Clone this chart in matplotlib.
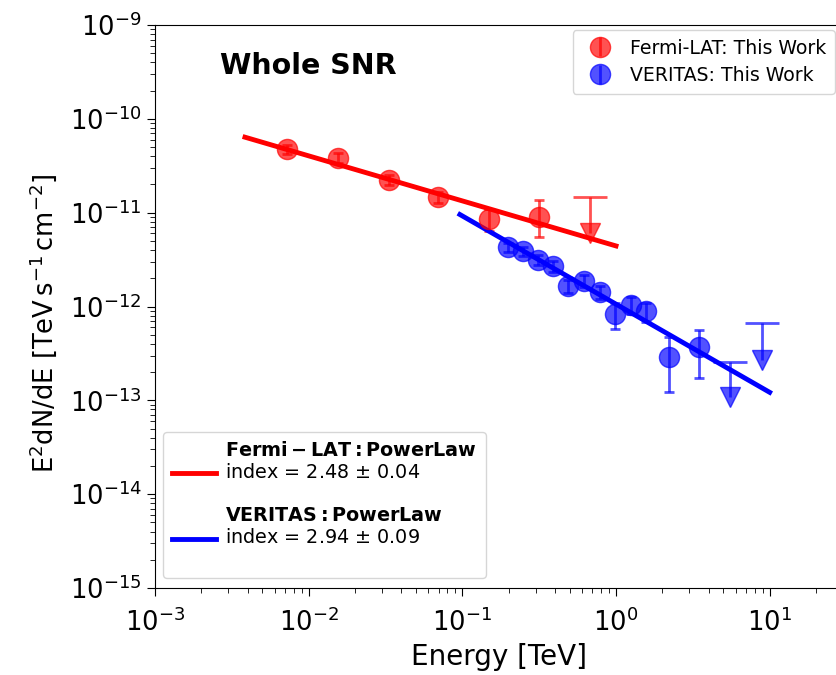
import numpy as np
import matplotlib
matplotlib.use("Agg")
import matplotlib.pyplot as plt

# Fermi-LAT flux points (TeV, TeV s^-1 cm^-2)
fermi_e = [7.2e-3, 1.55e-2, 3.33e-2, 6.94e-2, 0.149, 0.315]
fermi_f = [4.77e-11, 3.83e-11, 2.23e-11, 1.47e-11, 8.55e-12, 9.0e-12]
fermi_lo = [4.2e-11, 3.4e-11, 1.95e-11, 1.28e-11, 6.3e-12, 5.5e-12]
fermi_hi = [5.3e-11, 4.3e-11, 2.5e-11, 1.66e-11, 1.1e-11, 1.37e-11]
fermi_ul_e = [0.674]
fermi_ul = [1.47e-11]
fermi_ul_arrow = [6.1e-12]

# VERITAS flux points
ver_e = [0.198, 0.247, 0.310, 0.388, 0.486, 0.617, 0.783, 0.98, 1.25, 1.56, 2.20, 3.45]
ver_f = [4.3e-12, 3.9e-12, 3.13e-12, 2.7e-12, 1.65e-12, 1.87e-12, 1.43e-12,
         8.3e-13, 1.04e-12, 8.95e-13, 2.9e-13, 3.7e-13]
ver_lo = [3.8e-12, 3.45e-12, 2.75e-12, 2.35e-12, 1.4e-12, 1.6e-12, 1.2e-12,
          5.75e-13, 8.3e-13, 6.9e-13, 1.23e-13, 1.73e-13]
ver_hi = [4.8e-12, 4.35e-12, 3.5e-12, 3.05e-12, 1.9e-12, 2.15e-12, 1.66e-12,
          1.1e-12, 1.25e-12, 1.1e-12, 4.73e-13, 5.6e-13]
ver_ul_e = [5.50, 8.87]
ver_ul = [2.56e-13, 6.67e-13]
ver_ul_arrow = [1.08e-13, 2.69e-13]

# power-law fits: norm at 1 TeV (E^2 dN/dE), index, error, energy range
fermi_norm, fermi_index, fermi_err, fermi_range = 4.42e-12, 2.48, 0.04, (3.85e-3, 1.0)
ver_norm, ver_index, ver_err, ver_range = 1.06e-12, 2.94, 0.09, (0.0964, 10.0)

ALPHA = 0.68


def errs(f, lo, hi):
    f = np.array(f)
    return [f - np.array(lo), np.array(hi) - f]


def draw_ul(ax, e, ul, arrow, color):
    # stem from the limit down to the arrow, cap on top, triangle at bottom
    ul, arrow = np.array(ul), np.array(arrow)
    ax.errorbar(e, ul, yerr=[ul - arrow, np.zeros_like(ul)], fmt="none",
                ecolor=color, elinewidth=2, capsize=0, alpha=ALPHA)
    ax.plot(e, ul, ls="none", marker="_", ms=25, mew=2, color=color, alpha=ALPHA)
    ax.plot(e, arrow, ls="none", marker="v", ms=15, color=color, alpha=ALPHA)


def main():
    fig = plt.figure(figsize=(8.37, 6.75), dpi=100)
    # right spine sits just past the figure edge, as in the original crop
    ax = fig.add_axes([155 / 837, 87 / 675, 688 / 837, 563 / 675])

    pt_kw = dict(fmt="o", ms=14.5, alpha=ALPHA, elinewidth=2, capsize=3.5,
                 capthick=2)

    ax.errorbar(fermi_e, fermi_f, yerr=errs(fermi_f, fermi_lo, fermi_hi),
                color="red", **pt_kw)
    draw_ul(ax, fermi_ul_e, fermi_ul, fermi_ul_arrow, "red")

    ax.errorbar(ver_e, ver_f, yerr=errs(ver_f, ver_lo, ver_hi),
                color="blue", **pt_kw)
    draw_ul(ax, ver_ul_e, ver_ul, ver_ul_arrow, "blue")

    # legend handles without caps
    h_fermi = ax.errorbar([], [], yerr=[], fmt="o", ms=14.5, alpha=ALPHA,
                          elinewidth=2, capsize=0, color="red")
    h_ver = ax.errorbar([], [], yerr=[], fmt="o", ms=14.5, alpha=ALPHA,
                        elinewidth=2, capsize=0, color="blue")

    ef = np.logspace(np.log10(fermi_range[0]), np.log10(fermi_range[1]), 50)
    l1, = ax.plot(ef, fermi_norm * ef ** (2 - fermi_index), color="red", lw=3.5)
    ev = np.logspace(np.log10(ver_range[0]), np.log10(ver_range[1]), 50)
    l2, = ax.plot(ev, ver_norm * ev ** (2 - ver_index), color="blue", lw=3.5)

    ax.set_xscale("log")
    ax.set_yscale("log")
    ax.set_xlim(1e-3, 30)
    ax.set_ylim(1e-15, 1e-9)
    ax.tick_params(labelsize=18.5, which="major", length=6)
    ax.tick_params(axis="x", pad=9)
    ax.tick_params(which="minor", length=3.5)
    ax.set_xlabel("Energy [TeV]", fontsize=20)
    ax.xaxis.set_label_coords((499 - 155) / 688, -0.097)
    ax.set_ylabel(r"$\mathrm{E^2dN/dE\ [TeV\,s^{-1}\,cm^{-2}]}$", fontsize=18.5)
    ax.yaxis.set_label_coords((59 - 155) / 688, 0.47)

    ax.text((220 - 155) / 688, 0.927, "Whole SNR", transform=ax.transAxes,
            fontsize=20.5, fontweight="bold", va="center")

    leg1 = ax.legend([h_fermi, h_ver], ["Fermi-LAT: This Work", "VERITAS: This Work"],
                     loc="upper right",
                     bbox_to_anchor=((835 - 155) / 688, (588 - 30) / 563),
                     borderaxespad=0, fontsize=13.6, handletextpad=0.6,
                     borderpad=0.45, labelspacing=0.45)
    ax.add_artist(leg1)

    fit_labels = [
        r"$\mathbf{Fermi-LAT: PowerLaw}$" + "\nindex = %.2f $\\pm$ %.2f\n" % (fermi_index, fermi_err),
        r"$\mathbf{VERITAS: PowerLaw}$" + "\nindex = %.2f $\\pm$ %.2f\n" % (ver_index, ver_err),
    ]
    ax.legend([l1, l2], fit_labels, loc="lower left",
              bbox_to_anchor=((163 - 155) / 688, (588 - 578) / 563),
              borderaxespad=0, fontsize=13.8, labelspacing=0.15, borderpad=0.45,
              handlelength=2.3, handletextpad=0.5)

    plt.savefig("out.png", dpi=100)


if __name__ == "__main__":
    main()
